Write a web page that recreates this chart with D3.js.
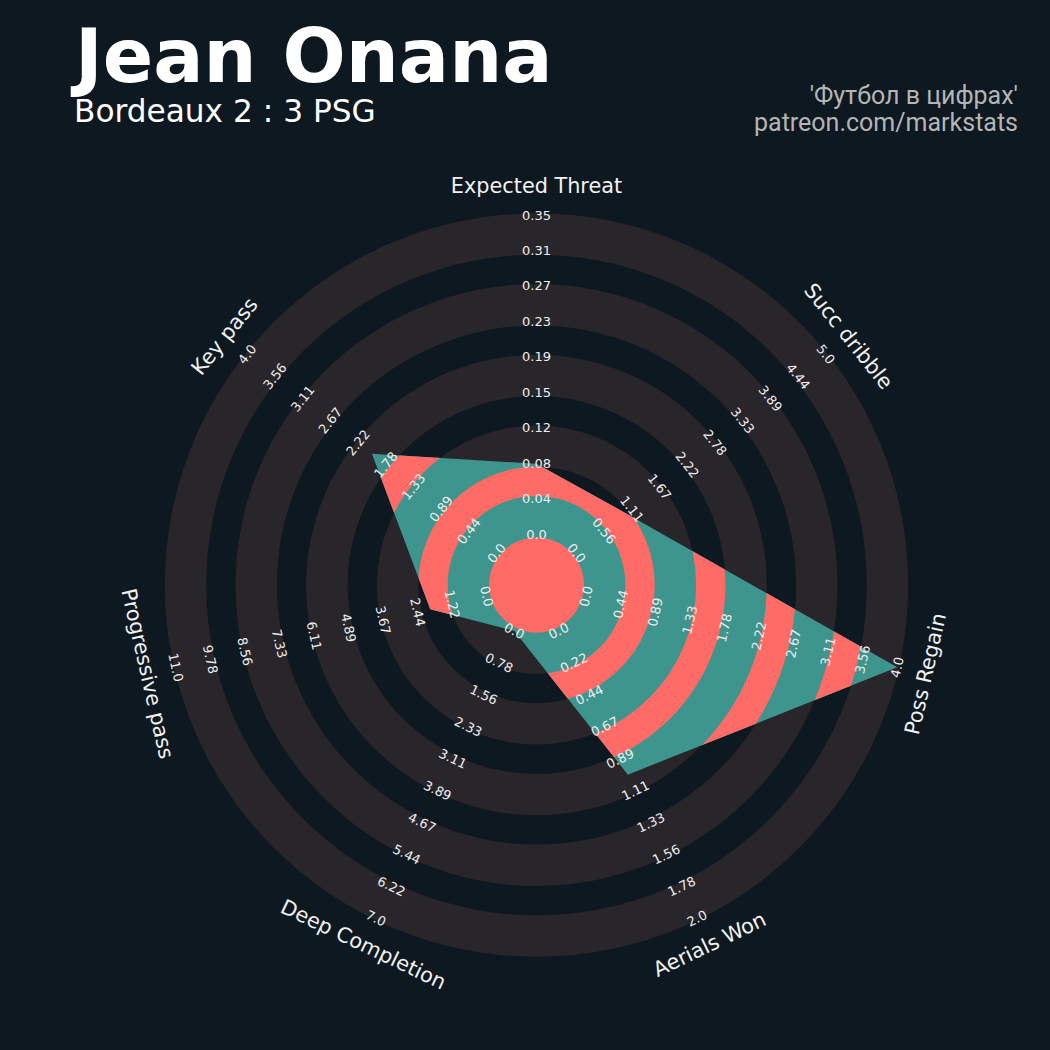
<!DOCTYPE html>
<html><head><meta charset="utf-8">
<script src="https://cdn.jsdelivr.net/npm/d3@7"></script>
<style>
html,body{margin:0;padding:0;background:#0e1820;}
svg{display:block;}
</style></head>
<body>
<svg id="chart" width="1050" height="1050"></svg>
<script>
// ---------- data ----------
const params = ["Expected Threat","Succ dribble","Poss Regain","Aerials Won","Deep Completion","Progressive pass","Key pass"];
const minRange = [0,0,0,0,0,0,0];
const maxRange = [0.35,5.0,4.0,2.0,7.0,11.0,4.0];
const values = [0.077,1.0,4.0,1.0,0.0,2.0,2.0];
const rangeLabels = [
 ["0.0","0.04","0.08","0.12","0.15","0.19","0.23","0.27","0.31","0.35"],
 ["0.0","0.56","1.11","1.67","2.22","2.78","3.33","3.89","4.44","5.0"],
 ["0.0","0.44","0.89","1.33","1.78","2.22","2.67","3.11","3.56","4.0"],
 ["0.0","0.22","0.44","0.67","0.89","1.11","1.33","1.56","1.78","2.0"],
 ["0.0","0.78","1.56","2.33","3.11","3.89","4.67","5.44","6.22","7.0"],
 ["0.0","1.22","2.44","3.67","4.89","6.11","7.33","8.56","9.78","11.0"],
 ["0.0","0.44","0.89","1.33","1.78","2.22","2.67","3.11","3.56","4.0"]
];
const titleText = "Jean Onana";
const subtitleText = "Bordeaux 2 : 3 PSG";
const creditLines = ["'Футбол в цифрах'","patreon.com/markstats"];

// ---------- style / geometry ----------
const BG = "#0e1820", RING = "#28252b", TEAL = "#3d958d", RED = "#ff6b66";
const cx = 536.5, cy = 585;
const rIn = 51, rOut = 370;            // value range -> radius
const centerR = 47.5, grayW = 41.4, gapW = 29.3; // background bands
const labelR = 399;

const svg = d3.select("#chart");
svg.append("rect").attr("width",1050).attr("height",1050).attr("fill",BG);

const n = params.length;
const angDeg = i => 90 - i*360/n;
const ang = i => angDeg(i)*Math.PI/180;
const pt = (i,r) => [cx + r*Math.cos(ang(i)), cy - r*Math.sin(ang(i))];
const scales = params.map((p,i)=> d3.scaleLinear().domain([minRange[i],maxRange[i]]).range([rIn,rOut]));
function textRot(i){
  let t = 90 - angDeg(i);
  t = ((t+180)%360+360)%360-180;
  if (t>90) t-=180;
  if (t<-90) t+=180;
  return t;
}

// band edges
const edges = [centerR];
for (let k=0;k<9;k++) edges.push(edges[k] + (k%2===0 ? grayW : gapW));
const grayBands = [], innerBands = [[0,edges[0]]];
for (let k=0;k<9;k++){ (k%2===0 ? grayBands : innerBands).push([edges[k],edges[k+1]]); }

const arc = d3.arc().startAngle(0).endAngle(2*Math.PI);
const g = svg.append("g").attr("transform",`translate(${cx},${cy})`);
g.selectAll("path.ring").data(grayBands).join("path")
  .attr("class","ring").attr("fill",RING)
  .attr("d",d=>arc({innerRadius:d[0],outerRadius:d[1]}));

// radar polygon
const pts = values.map((v,i)=>pt(i,scales[i](v)));
const line = d3.line().curve(d3.curveLinearClosed);
svg.append("clipPath").attr("id","radarClip").append("path").attr("d",line(pts));
svg.append("path").attr("d",line(pts)).attr("fill",TEAL);
const gi = svg.append("g").attr("clip-path","url(#radarClip)")
  .append("g").attr("transform",`translate(${cx},${cy})`);
gi.selectAll("path").data(innerBands).join("path")
  .attr("fill",RED)
  .attr("d",d=>arc({innerRadius:d[0],outerRadius:d[1]}));

// range labels
params.forEach((p,i)=>{
  const vals = d3.range(10).map(k=>minRange[i] + (maxRange[i]-minRange[i])*k/9);
  vals.forEach((v,k)=>{
    const [x,y] = pt(i,scales[i](v));
    svg.append("text").attr("x",0).attr("y",0)
      .attr("transform",`translate(${x},${y}) rotate(${textRot(i)})`)
      .attr("text-anchor","middle").attr("dominant-baseline","central")
      .attr("font-family","DejaVu Sans").attr("font-size",13)
      .attr("fill","#eeeeee").text(rangeLabels[i][k]);
  });
  const [lx,ly] = pt(i,labelR);
  svg.append("text").attr("x",0).attr("y",0)
    .attr("transform",`translate(${lx},${ly}) rotate(${textRot(i)})`)
    .attr("text-anchor","middle").attr("dominant-baseline","central")
    .attr("font-family","DejaVu Sans").attr("font-size",20.8)
    .attr("fill","#f2f2f2").text(p);
});

// titles
svg.append("text").attr("x",75).attr("y",82)
  .attr("font-family","DejaVu Sans").attr("font-weight","bold").attr("font-size",74.5)
  .attr("fill","#ffffff").text(titleText);
svg.append("text").attr("x",74).attr("y",122)
  .attr("font-family","DejaVu Sans").attr("font-size",31.2)
  .attr("fill","#ffffff").text(subtitleText);
creditLines.forEach((t,j)=>{
  svg.append("text").attr("x",1018).attr("y",104 + j*27)
    .attr("text-anchor","end")
    .attr("font-family","Roboto").attr("font-size",25)
    .attr("fill","#b5b5b5").text(t);
});
</script>
</body></html>
